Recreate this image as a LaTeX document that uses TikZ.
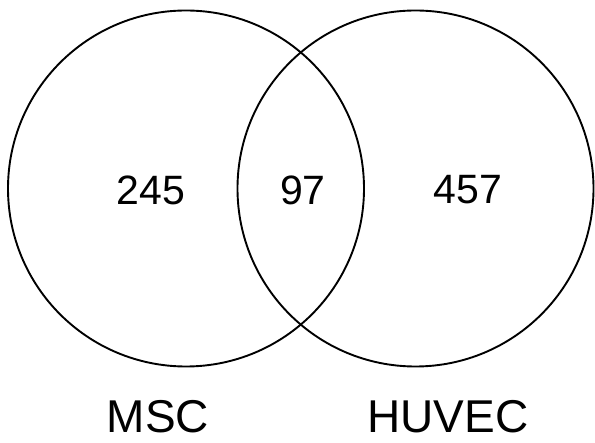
\documentclass[tikz,border=0pt]{standalone}
\usepackage{fontspec}
\setmainfont{Liberation Sans}
\tikzset{
  setcircle/.style={draw, circle, line width=1.9pt, minimum size=356pt, inner sep=0pt},
  count/.style={font=\fontsize{41}{41}\selectfont, inner sep=0pt},
  setname/.style={font=\fontsize{46}{46}\selectfont, inner sep=0pt, anchor=base}
}
\begin{document}
\begin{tikzpicture}[x=1pt, y=-1pt]
    \useasboundingbox (0,0) rectangle (595,443);
    \node[setcircle] (msc) at (186, 188.5) {};
    \node[setcircle] (huvec) at (415.5, 188.5) {};
    \node[count] (a) at (151, 190) {245};
    \node[count] (ab) at (303, 190) {97};
    \node[count] (b) at (468, 190) {457};
    \node[setname] (la) at (158, 433) {MSC};
    \node[setname] (lb) at (448, 433) {HUVEC};
\end{tikzpicture}
\end{document}
